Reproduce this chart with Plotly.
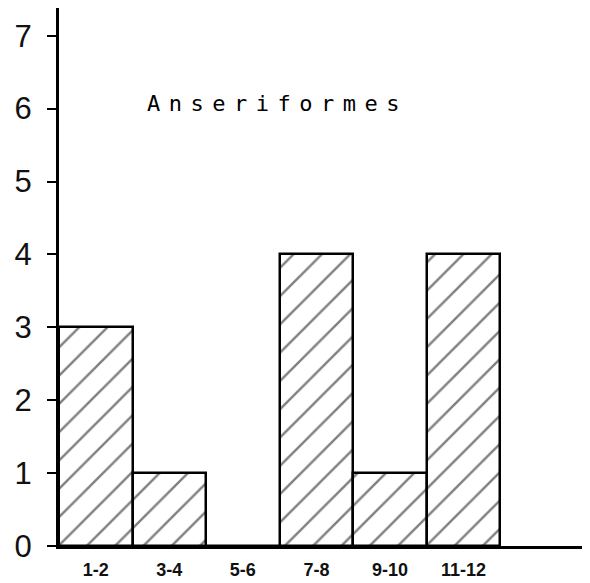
import plotly.graph_objects as go

categories = ["1-2", "3-4", "5-6", "7-8", "9-10", "11-12"]
counts = [3, 1, 0, 4, 1, 4]
y_ticks = [0, 1, 2, 3, 4, 5, 6, 7]
title_text = "Anseriformes"

fig = go.Figure()
fig.add_trace(go.Bar(
    x=categories,
    y=counts,
    marker=dict(
        color="white",
        line=dict(color="black", width=2.5),
        pattern=dict(shape="/", fgcolor="black", bgcolor="white", size=20, solidity=0.12),
    ),
    width=1.0,
))

fig.add_annotation(
    text="<span style='letter-spacing:8.5px'>" + title_text + "</span>",
    xref="paper", yref="paper",
    x=0.162, y=0.823,
    xanchor="left", yanchor="middle",
    showarrow=False,
    font=dict(family="DejaVu Sans Mono", size=22, color="#000"),
)

# page body has an 8px margin, so the figure is sized/offset to compensate
fig.update_layout(
    width=582, height=575,
    margin=dict(l=51, r=0, t=0, b=37),
    paper_bgcolor="white",
    plot_bgcolor="white",
    showlegend=False,
    bargap=0,
    xaxis=dict(
        type="category",
        range=[-0.5, 6.72],
        automargin=False,
        showline=True, linecolor="black", linewidth=3,
        showgrid=False, zeroline=False,
        ticks="", ticklabelstandoff=5,
        tickfont=dict(family="Liberation Sans", size=18, color="#111", weight="bold"),
    ),
    yaxis=dict(
        range=[0, 7.38],
        tickvals=y_ticks,
        automargin=False,
        showline=True, linecolor="black", linewidth=3,
        showgrid=False, zeroline=False,
        ticks="outside", ticklen=9, tickwidth=2, tickcolor="black",
        ticklabelstandoff=9,
        tickfont=dict(family="Liberation Sans", size=31, color="#111"),
    ),
)

fig.write_html("out.html")
